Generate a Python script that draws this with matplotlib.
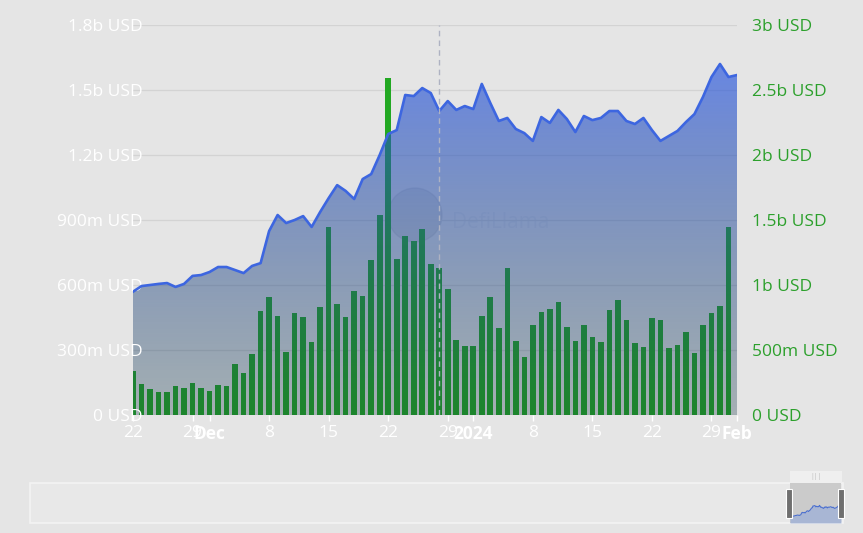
import numpy as np
import matplotlib
matplotlib.use('Agg')
import matplotlib.pyplot as plt
from matplotlib.patches import Rectangle, Circle

plt.rcParams['font.family'] = ['Open Sans', 'DejaVu Sans']

# TVL in USD (left axis), one point a day, 22 Nov 2023 .. 1 Feb 2024
tvl = [569e6, 595e6, 600e6, 605e6, 609e6, 591e6, 605e6, 642e6, 646e6, 660e6,
       683e6, 683e6, 669e6, 655e6, 688e6, 701e6, 849e6, 923e6, 886e6, 900e6,
       918e6, 868e6, 937e6, 1001e6, 1061e6, 1034e6, 997e6, 1089e6, 1112e6, 1200e6,
       1297e6, 1315e6, 1477e6, 1472e6, 1509e6, 1486e6, 1403e6, 1449e6, 1408e6, 1426e6,
       1412e6, 1528e6, 1440e6, 1357e6, 1371e6, 1320e6, 1301e6, 1265e6, 1375e6, 1348e6,
       1408e6, 1366e6, 1306e6, 1380e6, 1361e6, 1371e6, 1403e6, 1403e6, 1357e6, 1343e6,
       1371e6, 1315e6, 1265e6, 1288e6, 1311e6, 1352e6, 1389e6, 1468e6, 1560e6, 1620e6,
       1560e6, 1569e6]

# daily volume in USD (right axis), 22 Nov 2023 .. 31 Jan 2024
volume = [341e6, 238e6, 202e6, 177e6, 177e6, 223e6, 210e6, 248e6, 208e6, 187e6,
          231e6, 223e6, 392e6, 325e6, 469e6, 800e6, 910e6, 762e6, 487e6, 787e6,
          754e6, 562e6, 828e6, 1448e6, 852e6, 756e6, 956e6, 915e6, 1192e6, 1538e6,
          2590e6, 1200e6, 1379e6, 1338e6, 1428e6, 1159e6, 1131e6, 967e6, 575e6, 531e6,
          531e6, 762e6, 905e6, 669e6, 1131e6, 569e6, 446e6, 690e6, 792e6, 818e6,
          872e6, 675e6, 567e6, 690e6, 600e6, 562e6, 808e6, 885e6, 728e6, 556e6,
          521e6, 748e6, 733e6, 513e6, 538e6, 638e6, 479e6, 690e6, 782e6, 838e6,
          1444e6]

x_ticks = [0, 7, 9, 16, 23, 30, 37, 40, 47, 54, 61, 68, 71]
x_labels = ['22', '29', 'Dec', '8', '15', '22', '29', '2024', '8', '15', '22', '29', 'Feb']
bold_labels = ['Dec', '2024', 'Feb']
left_ticks = [0, 300e6, 600e6, 900e6, 1.2e9, 1.5e9, 1.8e9]
left_labels = ['0 USD', '300m USD', '600m USD', '900m USD', '1.2b USD', '1.5b USD', '1.8b USD']
right_ticks = [0, 0.5e9, 1e9, 1.5e9, 2e9, 2.5e9, 3e9]
right_labels = ['0 USD', '500m USD', '1b USD', '1.5b USD', '2b USD', '2.5b USD', '3b USD']
hover_day = 36

bg = '#e5e5e5'
W, H = 863, 533
fig = plt.figure(figsize=(W / 100, H / 100), dpi=100, facecolor=bg)

# marca de agua al fondo
wm = fig.add_axes([0, 0, 1, 1], zorder=-5)
wm.set_xlim(0, W)
wm.set_ylim(H, 0)
wm.axis('off')
wm.add_patch(Circle((415, 215), 27, color='#b4b6bc', alpha=0.35))
wm.text(452, 223, 'DefiLlama', color='#cdd0d8', alpha=0.4, fontsize=15, va='center')

rect = [133 / W, 118 / H, 604 / W, 390 / H]
days = np.arange(len(tvl))
bar_days = np.arange(len(volume))

# barras (eje derecho)
axb = fig.add_axes(rect, zorder=0)
axb.patch.set_visible(False)
axb.bar(bar_days, volume, width=0.66, color='#22a822', zorder=2)
axb.set_xlim(0, len(tvl) - 1)
axb.set_ylim(0, 3e9)
axb.yaxis.tick_right()
axb.set_yticks(right_ticks, right_labels)
axb.tick_params(axis='y', length=0, pad=11, labelsize=12.5, labelcolor='#2ca02c')
axb.set_xticks([])
axb.grid(axis='y', color='#d3d3d3', lw=0.9)
axb.set_axisbelow(True)
for s in axb.spines.values():
    s.set_visible(False)

# area + linea TVL (eje izquierdo)
ax = fig.add_axes(rect, zorder=1)
ax.patch.set_visible(False)
n = 256
t = np.linspace(0, 1, n)[:, None]
top = np.array([45, 90, 225, 0.68 * 255]) / 255
bot = np.array([20, 55, 70, 0.31 * 255]) / 255
grad = (bot + (top - bot) * t).reshape(n, 1, 4)
im = ax.imshow(grad, extent=[0, len(tvl) - 1, 0, max(tvl)], origin='lower',
               aspect='auto', zorder=1)
poly = ax.fill_between(days, tvl, 0, facecolor='none', edgecolor='none')
im.set_clip_path(poly.get_paths()[0], transform=ax.transData)
ax.plot(days, tvl, color='#3d66e0', lw=1.9, zorder=3, solid_joinstyle='round')
ax.axvline(hover_day, color='#aeb2c2', ls=(0, (4, 3)), lw=1, zorder=4)

ax.set_xlim(0, len(tvl) - 1)
ax.set_ylim(0, 1.8e9)
ax.set_yticks(left_ticks, left_labels)
ax.tick_params(axis='y', length=0, pad=-7, labelsize=12.5, labelcolor='white')
ax.set_xticks(x_ticks, x_labels)
ax.tick_params(axis='x', colors='white', length=4.5, width=1, pad=3, labelsize=12.5)
for lab in ax.get_xticklabels():
    if lab.get_text() in bold_labels:
        lab.set_fontweight('bold')
for s in ax.spines.values():
    s.set_visible(False)

# barra de zoom inferior
ov = fig.add_axes([0, 0, 1, 1], zorder=10)
ov.set_xlim(0, W)
ov.set_ylim(H, 0)
ov.axis('off')
ov.patch.set_visible(False)
ov.add_patch(Rectangle((30, 483), 813, 40, facecolor='#e8e8e8', edgecolor='#f3f3f3', lw=1.2))
ov.add_patch(Rectangle((790, 483), 51, 40, facecolor='#cbcbcb', edgecolor='none'))
ov.add_patch(Rectangle((790, 471), 52, 12, facecolor='#efefef', edgecolor='none'))
ov.text(816, 477, '|||', color='#bdbdbd', fontsize=5, ha='center', va='center')

mini = fig.add_axes([790 / W, 10 / H, 51 / W, 30 / H], zorder=11)
mini.patch.set_visible(False)
mini.fill_between(days, tvl, 0, color='#9aaed8', alpha=0.7, lw=0)
mini.plot(days, tvl, color='#4a6fd0', lw=0.8)
mini.set_xlim(0, len(tvl) - 1)
mini.set_ylim(0, 2.6e9)
mini.axis('off')

ov2 = fig.add_axes([0, 0, 1, 1], zorder=12)
ov2.set_xlim(0, W)
ov2.set_ylim(H, 0)
ov2.axis('off')
ov2.patch.set_visible(False)
ov2.add_patch(Rectangle((786, 489), 6, 29, facecolor='#6f6f6f', edgecolor='white', lw=0.8))
ov2.add_patch(Rectangle((838, 489), 6, 29, facecolor='#6f6f6f', edgecolor='white', lw=0.8))

plt.savefig('out.png', dpi=100, facecolor=bg)
